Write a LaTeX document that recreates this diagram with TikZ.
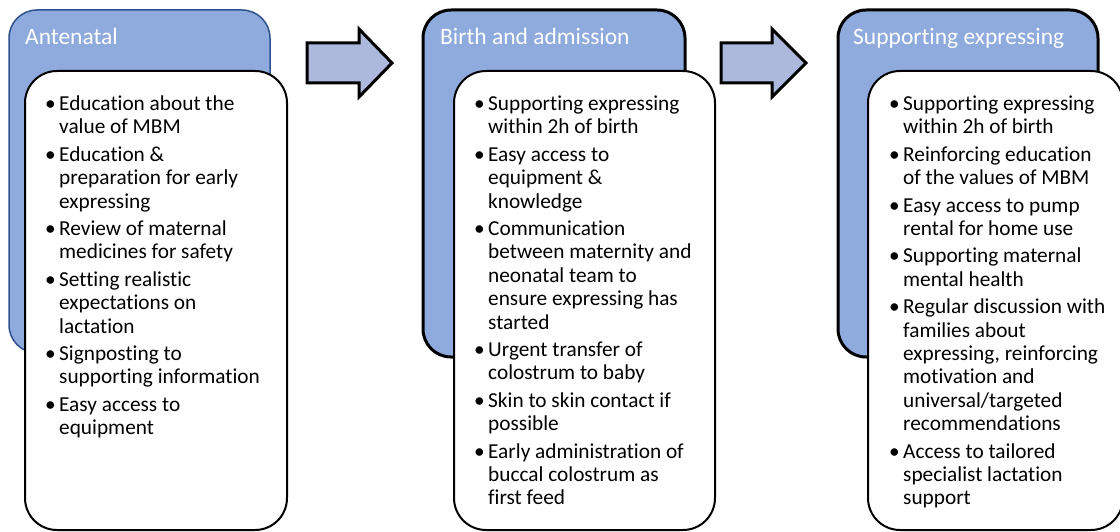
\documentclass[tikz,border=0pt]{standalone}
\usepackage{fontspec}
\setmainfont{Carlito}[Ligatures=NoCommon]
\definecolor{stageblue}{HTML}{8FAADC}
\definecolor{stageedge}{HTML}{2F528F}
\definecolor{arrowfill}{HTML}{ADB9DC}
\tikzset{
  stage/.style={fill=stageblue, rounded corners=28pt},
  card/.style={fill=white, draw=black, line width=2pt, rounded corners=32pt},
  stagetitle/.style={anchor=base west, text=white, inner sep=0pt,
    font=\fontsize{23.5}{28}\selectfont},
  items/.style={anchor=north west, align=left, inner sep=0pt,
    font=\fontsize{21.3}{23.4}\selectfont},
}
\tikzset{flow/.style={fill=arrowfill, draw=black, line width=3pt, line join=miter}}
% bullet hung into the left margin; the first line gets a strut so the
% node's top edge sits a fixed distance above the first baseline
\newcommand\bul{\llap{\textbullet\hspace{3.5pt}}}
\newcommand\firstbul{\strut\bul}
\begin{document}
\begin{tikzpicture}[x=1pt,y=-1pt]
\useasboundingbox (0,0) rectangle (1120,532);
\clip (0,0) rectangle (1120,532);

% stage 1: antenatal
\draw[stage, draw=stageedge, line width=1.5pt] (9,10) rectangle (270,353);
\draw[card] (25,71) rectangle (287,530);
\node[stagetitle] (t1) at (25,45) {Antenatal};
\node[items] (l1) at (59,94) {%
\firstbul Education about the\\ value of MBM\\[4pt]
\bul Education \&\\ preparation for early\\ expressing\\[4pt]
\bul Review of maternal\\ medicines for safety\\[4pt]
\bul Setting realistic\\ expectations on\\ lactation\\[4pt]
\bul Signposting to\\ supporting information\\[4pt]
\bul Easy access to\\ equipment};

% stage 2: birth and admission
\draw[stage, draw=black, line width=3pt] (423,10) rectangle (685,357);
\draw[card] (454,71) rectangle (715,530);
\node[stagetitle] (t2) at (440,45) {Birth and admission};
\node[items] (l2) at (488,94) {%
\firstbul Supporting expressing\\ within 2h of birth\\[4pt]
\bul Easy access to\\ equipment \&\\ knowledge\\[4pt]
\bul Communication\\ between maternity and\\ neonatal team to\\ ensure expressing has\\ started\\[4pt]
\bul Urgent transfer of\\ colostrum to baby\\[4pt]
\bul Skin to skin contact if\\ possible\\[4pt]
\bul Early administration of\\ buccal colostrum as\\ first feed};

% stage 3: supporting expressing
\draw[stage, draw=black, line width=3pt] (838,10) rectangle (1098,357);
\draw[card] (868,71) rectangle (1123,530);
\node[stagetitle] (t3) at (853,45) {Supporting expressing};
\node[items] (l3) at (903,94) {%
\firstbul Supporting expressing\\ within 2h of birth\\[4pt]
\bul Reinforcing education\\ of the values of MBM\\[4pt]
\bul Easy access to pump\\ rental for home use\\[4pt]
\bul Supporting maternal\\ mental health\\[4pt]
\bul Regular discussion with\\ families about\\ expressing, reinforcing\\ motivation and\\ universal/targeted\\ recommendations\\[4pt]
\bul Access to tailored\\ specialist lactation\\ support};

% block arrows between the stages
\draw[flow] (307,43) -- (359,43) -- (359,29) -- (392,63) -- (359,97) -- (359,83) -- (307,83) -- cycle;
\draw[flow] (721,43) -- (772,43) -- (772,29) -- (806,63) -- (772,97) -- (772,83) -- (721,83) -- cycle;
\end{tikzpicture}
\end{document}
